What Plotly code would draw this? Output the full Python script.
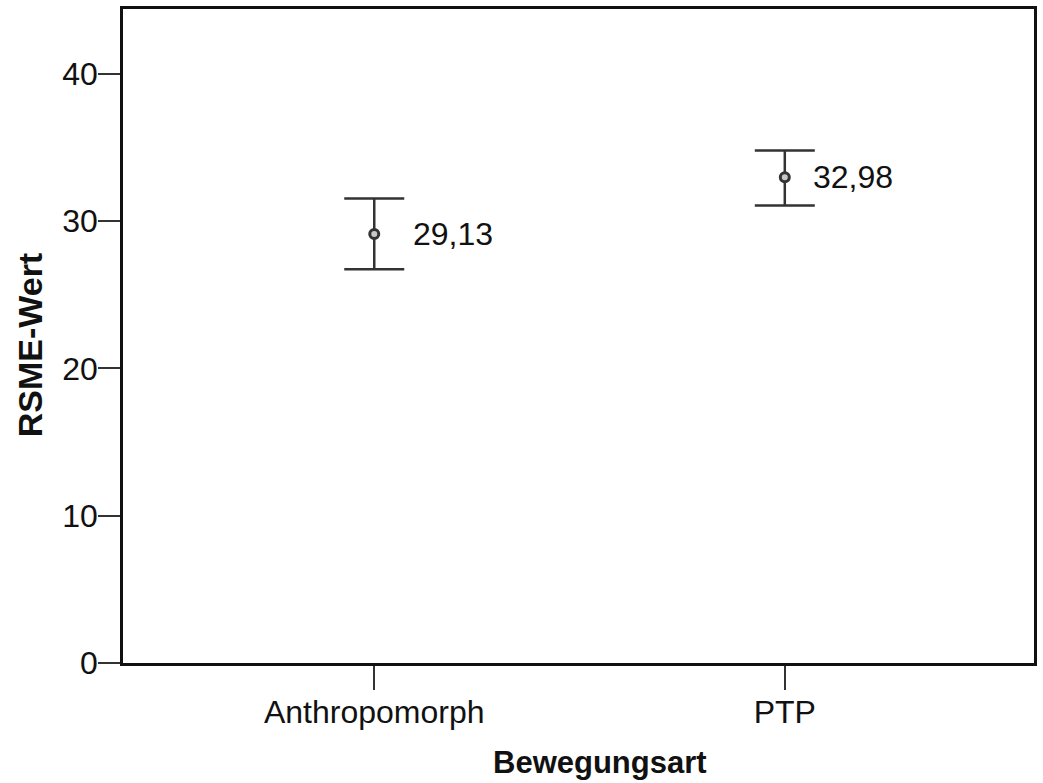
import plotly.graph_objects as go

# Mean RSME per movement type with error-bar bounds
categories = ["Anthropomorph", "PTP"]
means = [29.13, 32.98]
upper = [31.55, 34.80]
lower = [26.73, 31.07]
value_labels = ["29,13", "32,98"]
label_shift = [37, 26]
y_ticks = [0, 10, 20, 30, 40]

FONT = "Liberation Sans, Arial, sans-serif"
INK = "#111111"
BAR = "#333333"

x_idx = list(range(len(categories)))

fig = go.Figure()
fig.add_trace(go.Scatter(
    x=x_idx,
    y=means,
    mode="markers",
    marker=dict(symbol="circle", size=9, color="#c8c8c8",
                line=dict(color=BAR, width=3)),
    error_y=dict(
        type="data",
        symmetric=False,
        array=[u - m for u, m in zip(upper, means)],
        arrayminus=[m - l for m, l in zip(means, lower)],
        color=BAR,
        thickness=2.5,
        width=30,
    ),
    showlegend=False,
    hoverinfo="skip",
))

for xi, m, lab, dx in zip(x_idx, means, value_labels, label_shift):
    fig.add_annotation(
        x=xi, y=m, text=lab, showarrow=False,
        xanchor="left", yanchor="middle", xshift=dx,
        font=dict(family=FONT, size=32, color=INK),
    )

# Axis titles
fig.add_annotation(
    x=602, y=762, xref="paper", yref="paper", text="<b>Bewegungsart</b>",
    showarrow=False, xanchor="center", yanchor="middle",
    font=dict(family=FONT, size=31, color=INK),
)
fig.add_annotation(
    x=30, y=345, xref="paper", yref="paper", text="<b>RSME-Wert</b>",
    showarrow=False, xanchor="center", yanchor="middle", textangle=-90,
    font=dict(family=FONT, size=34, color=INK),
)

fig.update_layout(
    width=1043,
    height=783,
    margin=dict(l=123, r=6, t=9, b=120),
    paper_bgcolor="white",
    plot_bgcolor="white",
    font=dict(family=FONT, color=INK),
)

# Convert the two title annotations from pixel positions to paper fractions
pw = 1043 - 123 - 6
ph = 783 - 9 - 120
for ann in fig.layout.annotations:
    if ann.xref == "paper":
        ann.x = (ann.x - 123) / pw
        ann.y = (783 - 120 - ann.y) / ph

fig.update_xaxes(
    range=[-0.612, 1.607],
    tickmode="array",
    tickvals=x_idx,
    ticktext=categories,
    tickfont=dict(family=FONT, size=32, color=INK),
    ticks="outside",
    ticklen=24,
    tickwidth=2,
    tickcolor=BAR,
    ticklabelstandoff=-5,
    showgrid=False,
    zeroline=False,
    showline=True,
    linecolor=INK,
    linewidth=2.5,
    mirror=True,
)

fig.update_yaxes(
    range=[0, 44.41],
    tickmode="array",
    tickvals=y_ticks,
    ticktext=[str(v) for v in y_ticks],
    tickfont=dict(family=FONT, size=32, color=INK),
    ticks="outside",
    ticklen=22,
    tickwidth=2,
    tickcolor=BAR,
    ticklabelstandoff=-6,
    showgrid=False,
    zeroline=False,
    showline=True,
    linecolor=INK,
    linewidth=2.5,
    mirror=True,
)

fig.write_html("out.html")
